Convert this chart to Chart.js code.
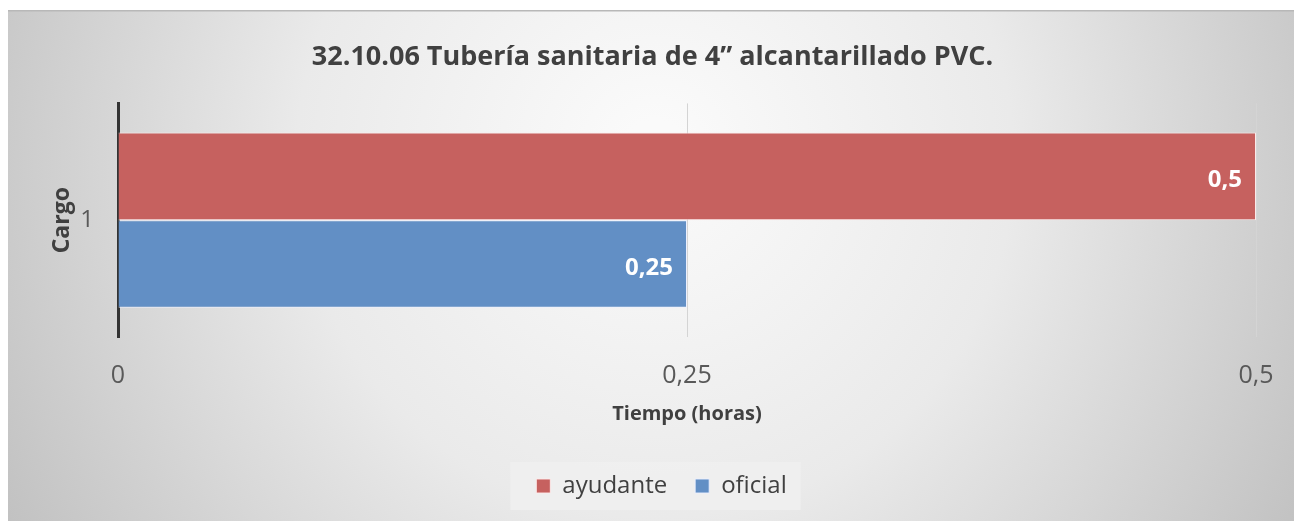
<!DOCTYPE html>
<html>
<head>
<meta charset="utf-8">
<script src="https://cdn.jsdelivr.net/npm/chart.js@4.4.1/dist/chart.umd.min.js"></script>
<style>
  html, body { margin: 0; padding: 0; background: #fff; }
  #wrap { width: 1294px; height: 521px; }
</style>
</head>
<body>
<div id="wrap"><canvas id="canv" width="1294" height="521"></canvas></div>
<script>
const categories = ["1"];
const seriesNames = ["ayudante", "oficial"];
const ayudante = [0.5];
const oficial = [0.25];
const xTicks = [0, 0.25, 0.5];

const fontFam = "'Open Sans', 'Liberation Sans', sans-serif";
const comma = v => String(v).replace(".", ",");

// gray radial backdrop like the office chart
const backdrop = {
  id: "backdrop",
  afterLayout(chart) {
    // legend sits a bit right of the canvas centre in the original
    const lg = chart.legend;
    lg.left += 9;
    lg.right += 9;
    (lg.legendHitBoxes || []).forEach(b => { b.left += 9; });
  },
  beforeDraw(chart) {
    const c = chart.ctx;
    c.save();
    const g = c.createRadialGradient(655, 150, 30, 655, 170, 760);
    g.addColorStop(0, "#fafafa");
    g.addColorStop(0.45, "#eaeaea");
    g.addColorStop(1, "#bfbfbf");
    c.fillStyle = g;
    c.fillRect(8, 10, 1286, 511);
    c.fillStyle = "#b8b8b8";
    c.fillRect(8, 10, 1286, 1.5);
    // faint box behind the legend items
    const hb = chart.legend.legendHitBoxes;
    if (hb && hb.length) {
      const l = Math.min(...hb.map(b => b.left)) - 26;
      const r = Math.max(...hb.map(b => b.left + b.width)) + 14;
      const t = Math.min(...hb.map(b => b.top)) - 12;
      const btm = Math.max(...hb.map(b => b.top + b.height)) + 12;
      c.fillStyle = "rgba(240,240,240,0.85)";
      c.fillRect(l, t, r - l, btm - t);
    }
    c.restore();
  }
};

// value labels inside the bar ends
const barLabels = {
  id: "barLabels",
  afterDatasetsDraw(chart) {
    const c = chart.ctx;
    c.save();
    c.font = "bold 24px " + fontFam;
    c.fillStyle = "#ffffff";
    c.textAlign = "right";
    c.textBaseline = "middle";
    chart.data.datasets.forEach((ds, i) => {
      chart.getDatasetMeta(i).data.forEach((bar, j) => {
        c.fillText(comma(ds.data[j]), bar.x - 14, bar.y + 4);
      });
    });
    c.restore();
  }
};

const ctx = document.getElementById("canv").getContext("2d");
new Chart(ctx, {
  type: "bar",
  data: {
    labels: categories,
    datasets: [
      {
        label: seriesNames[0],
        data: ayudante,
        backgroundColor: "rgb(198,97,95)",
        borderColor: "rgba(255,235,235,0.9)",
        borderWidth: 1
      },
      {
        label: seriesNames[1],
        data: oficial,
        backgroundColor: "rgb(98,143,197)",
        borderColor: "rgba(235,240,255,0.9)",
        borderWidth: 1
      }
    ]
  },
  options: {
    indexAxis: "y",
    responsive: false,
    animation: false,
    layout: { padding: { top: 22, left: 49, right: 38, bottom: 13 } },
    datasets: { bar: { categoryPercentage: 0.75, barPercentage: 1 } },
    plugins: {
      title: {
        display: true,
        text: "32.10.06 Tubería sanitaria de 4” alcantarillado PVC.",
        color: "#404040",
        font: { family: fontFam, size: 27, weight: "bold" },
        padding: { top: 19, bottom: 30 }
      },
      legend: {
        position: "bottom",
        labels: {
          color: "#404040",
          font: { family: fontFam, size: 24 },
          boxWidth: 14,
          boxHeight: 14,
          padding: 28
        }
      },
      tooltip: { enabled: false }
    },
    scales: {
      x: {
        min: 0,
        max: 0.5,
        afterBuildTicks: axis => { axis.ticks = xTicks.map(v => ({ value: v })); },
        afterFit: s => { s.height = 109; s.paddingRight = 0; },
        ticks: {
          color: "#595959",
          font: { family: fontFam, size: 25 },
          padding: 24,
          callback: v => comma(v)
        },
        grid: { color: "#d4d4d4", lineWidth: 1, drawTicks: false },
        border: { display: false },
        title: {
          display: true,
          text: "Tiempo (horas)",
          color: "#404040",
          font: { family: fontFam, size: 20, weight: "bold" },
          padding: { top: 0, bottom: 20 }
        }
      },
      y: {
        afterFit: s => { s.width = 69; },
        ticks: {
          color: "#595959",
          font: { family: fontFam, size: 24 },
          padding: 24
        },
        grid: { display: false, drawTicks: false },
        border: { display: true, color: "#333333", width: 3 },
        title: {
          display: true,
          text: "Cargo",
          color: "#404040",
          font: { family: fontFam, size: 23, weight: "bold" },
          padding: { top: 0, bottom: 0 }
        }
      }
    }
  },
  plugins: [backdrop, barLabels]
});
</script>
</body>
</html>
